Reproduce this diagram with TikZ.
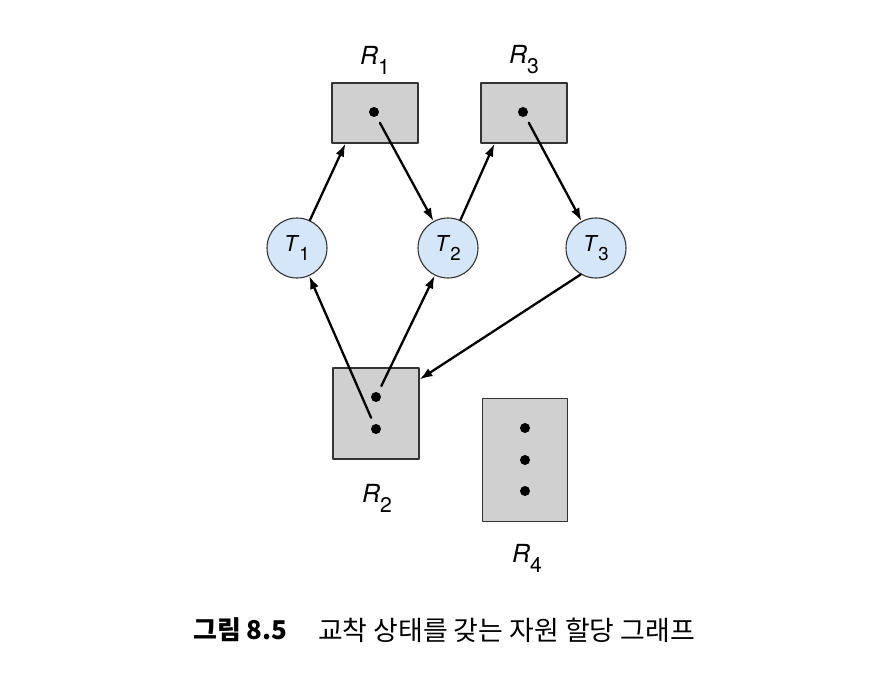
\documentclass[tikz,border=0pt]{standalone}
\usepackage{fontspec}
\setmainfont{TeX Gyre Heros}
\newfontfamily\krfont{Noto Sans CJK KR}
\usetikzlibrary{arrows.meta,calc,positioning}
\definecolor{resgray}{RGB}{208,208,208}
\definecolor{thrblue}{RGB}{212,230,247}
\newcommand{\lab}[2]{\textit{#1}\raisebox{-.4em}{\scalebox{.85}{#2}}}
\tikzset{
  res/.style={draw=black!80,line width=1.1bp,fill=resgray,inner sep=0},
  thr/.style={circle,draw=black!80,line width=1.1bp,fill=thrblue,minimum size=60bp,inner sep=0,font=\fontsize{22}{22}\selectfont},
  dot/.style={circle,fill=black,minimum size=10bp,inner sep=0},
  rlab/.style={font=\fontsize{25}{25}\selectfont},
  arr/.style={-{Latex[length=13bp,width=9bp]},line width=2.3bp}
}
\begin{document}
\begin{tikzpicture}[x=1bp,y=-1bp,line join=round,line cap=round]
\useasboundingbox (0,0) rectangle (888,676);
% resources
\node[res,minimum width=86bp,minimum height=60bp] (R1) at (375,113) {};
\node[res,minimum width=86bp,minimum height=60bp] (R3) at (524,113) {};
\node[res,minimum width=86bp,minimum height=91bp] (R2) at (376,413.5) {};
\node[res,minimum width=85bp,minimum height=123bp] (R4) at (525,460) {};
\node[rlab] (l1) at (375,60) {\lab R1};
\node[rlab] (l3) at (524,60) {\lab R3};
\node[rlab] (l2) at (377,498) {\lab R2};
\node[rlab] (l4) at (527,558) {\lab R4};
% instances
\node[dot] (d1) at (374,112) {};
\node[dot] (d3) at (523,112) {};
\node[dot] (d2a) at (376,397) {};
\node[dot] (d2b) at (376,429) {};
\foreach \i/\y in {1/428,2/460,3/491}{\node[dot] (d4\i) at (525,\y) {};}
% threads
\node[thr] (T1) at (297,248) {\lab T1};
\node[thr] (T2) at (448,248) {\lab T2};
\node[thr] (T3) at (596,248) {\lab T3};
% edges
\draw[arr] (T1) -- ([xshift=14bp]R1.south west);
\draw[arr,shorten <=7bp] (d1) -- (T2);
\draw[arr] (T2) -- ([xshift=14bp]R3.south west);
\draw[arr,shorten <=7bp] (d3) -- (T3);
\draw[arr] (T3.240) -- ([yshift=-12bp]R2.north east);
\draw[arr,shorten <=7bp] (d2b) -- (T1);
\draw[arr,shorten <=7bp] (d2a) -- (T2);
% caption
\node[anchor=west,inner sep=0,font=\krfont\bfseries\fontsize{26}{26}\selectfont] (cap) at (193,630) {그림 8.5};
\node[anchor=west,inner sep=0,font=\krfont\fontsize{27}{27}\selectfont] (ttl) at (318,630) {교착 상태를 갖는 자원 할당 그래프};
\end{tikzpicture}
\end{document}
